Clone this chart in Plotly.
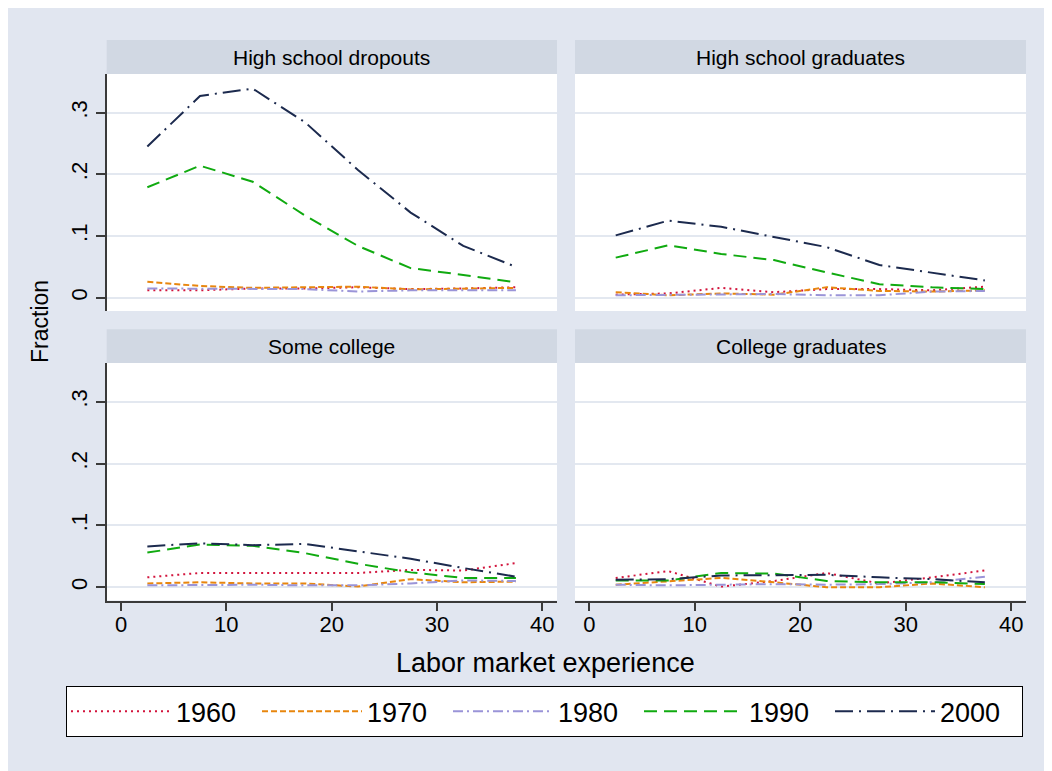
import plotly.graph_objects as go

# the page body has an 8px margin, so the figure is laid out 8px smaller
OFF = 8
W, H = 1052 - OFF, 771 - OFF

experience = [2.5, 7.5, 12.5, 17.5, 22.5, 27.5, 32.5, 37.5]
years = ["1960", "1970", "1980", "1990", "2000"]

# High school dropouts
dropouts_1960 = [0.012, 0.012, 0.015, 0.015, 0.017, 0.014, 0.015, 0.017]
dropouts_1970 = [0.026, 0.019, 0.016, 0.017, 0.018, 0.0135, 0.015, 0.016]
dropouts_1980 = [0.015, 0.015, 0.015, 0.014, 0.010, 0.012, 0.012, 0.012]
dropouts_1990 = [0.179, 0.214, 0.188, 0.133, 0.084, 0.048, 0.037, 0.025]
dropouts_2000 = [0.245, 0.327, 0.339, 0.284, 0.207, 0.138, 0.084, 0.050]

# High school graduates
hsgrad_1960 = [0.005, 0.007, 0.016, 0.009, 0.014, 0.014, 0.012, 0.018]
hsgrad_1970 = [0.009, 0.004, 0.007, 0.005, 0.017, 0.011, 0.010, 0.012]
hsgrad_1980 = [0.004, 0.005, 0.006, 0.006, 0.004, 0.004, 0.010, 0.011]
hsgrad_1990 = [0.065, 0.085, 0.071, 0.061, 0.041, 0.022, 0.017, 0.014]
hsgrad_2000 = [0.101, 0.125, 0.115, 0.098, 0.082, 0.053, 0.041, 0.028]

# Some college
somecol_1960 = [0.016, 0.023, 0.023, 0.023, 0.023, 0.028, 0.027, 0.039]
somecol_1970 = [0.006, 0.008, 0.006, 0.006, 0.001, 0.013, 0.008, 0.009]
somecol_1980 = [0.003, 0.004, 0.004, 0.003, 0.003, 0.006, 0.011, 0.010]
somecol_1990 = [0.056, 0.069, 0.067, 0.055, 0.038, 0.024, 0.015, 0.015]
somecol_2000 = [0.066, 0.071, 0.068, 0.070, 0.058, 0.046, 0.031, 0.017]

# College graduates
colgrad_1960 = [0.015, 0.026, 0.001, 0.010, 0.023, 0.006, 0.016, 0.027]
colgrad_1970 = [0.004, 0.010, 0.015, 0.008, 0.000, 0.000, 0.006, 0.000]
colgrad_1980 = [0.004, 0.003, 0.004, 0.005, 0.004, 0.005, 0.008, 0.017]
colgrad_1990 = [0.011, 0.011, 0.023, 0.022, 0.010, 0.008, 0.008, 0.005]
colgrad_2000 = [0.012, 0.013, 0.019, 0.020, 0.020, 0.016, 0.013, 0.008]

panels = [
    ("High school dropouts", [dropouts_1960, dropouts_1970, dropouts_1980, dropouts_1990, dropouts_2000]),
    ("High school graduates", [hsgrad_1960, hsgrad_1970, hsgrad_1980, hsgrad_1990, hsgrad_2000]),
    ("Some college", [somecol_1960, somecol_1970, somecol_1980, somecol_1990, somecol_2000]),
    ("College graduates", [colgrad_1960, colgrad_1970, colgrad_1980, colgrad_1990, colgrad_2000]),
]

colors = ["#D2143C", "#E8860E", "#9A94D8", "#10AA10", "#1C2A4E"]
dashes = ["2px,4px", "6px,3px", "10px,4px,2px,4px", "13px,7px", "18px,6px,2px,6px"]

BG = "#E1E6F0"
STRIP = "#D1D8E3"
GRID = "#E3E8F0"
AXIS = "#3A3A3A"
FONT = "Liberation Sans, Arial, sans-serif"


def fx(x):
    return (x - OFF) / W


def fy(y):
    return 1 - (y - OFF) / H


# panel boxes in page pixels
col_px = [(106.7, 557.0), (575.0, 1026.0)]
row_px = [(74.0, 311.0), (363.0, 600.5)]
strip_px = [(40.0, 74.0), (329.3, 363.0)]

fig = go.Figure()

for i, (title, series) in enumerate(panels):
    r, c = divmod(i, 2)
    ax = "" if i == 0 else str(i + 1)
    for j, vals in enumerate(series):
        fig.add_trace(go.Scatter(
            x=experience, y=vals, mode="lines", name=years[j],
            legendgroup=years[j], showlegend=(i == 0),
            line=dict(color=colors[j], width=2, dash=dashes[j]),
            xaxis="x" + ax, yaxis="y" + ax,
        ))
    x0, x1 = col_px[c]
    y0, y1 = row_px[r]
    bottom = r == 1
    left = c == 0
    fig.update_layout(**{
        "xaxis" + ax: dict(
            domain=[fx(x0), fx(x1)], range=[-1.36, 41.4], anchor="y" + ax,
            tickvals=[0, 10, 20, 30, 40], showgrid=False, zeroline=False,
            showticklabels=bottom, ticks="outside" if bottom else "",
            ticklen=9, tickwidth=1.5, tickcolor=AXIS, ticklabelstandoff=-6,
            showline=bottom, linecolor=AXIS, linewidth=1.5,
            tickfont=dict(size=22, color="black", family=FONT),
        ),
        "yaxis" + ax: dict(
            domain=[fy(y1), fy(y0)], range=[-0.0215, 0.3626], anchor="x" + ax,
            tickvals=[0, 0.1, 0.2, 0.3], ticktext=["0", ".1", ".2", ".3"],
            showgrid=True, gridcolor=GRID, gridwidth=1.5, zeroline=False,
            showticklabels=left, ticks="outside" if left else "",
            ticklen=9, tickwidth=1.5, tickcolor=AXIS, tickangle=-90,
            showline=left, linecolor=AXIS, linewidth=1.5,
            tickfont=dict(size=22, color="black", family=FONT),
        ),
    })
    s0, s1 = strip_px[r]
    fig.add_shape(type="rect", xref="paper", yref="paper",
                  x0=fx(x0), x1=fx(x1), y0=fy(s1), y1=fy(s0),
                  fillcolor=STRIP, line_width=0, layer="below")
    fig.add_annotation(text=title, xref="paper", yref="paper",
                       x=fx((x0 + x1) / 2), y=fy((s0 + s1) / 2),
                       xanchor="center", yanchor="middle",
                       showarrow=False, font=dict(size=21, color="black", family=FONT))

fig.add_annotation(text="Fraction", xref="paper", yref="paper", x=fx(40), y=fy(322),
                   xanchor="center", yanchor="middle", textangle=-90, showarrow=False,
                   font=dict(size=23, color="black", family=FONT))
fig.add_annotation(text="Labor market experience", xref="paper", yref="paper",
                   x=fx(545), y=fy(663), xanchor="center", yanchor="middle",
                   showarrow=False, font=dict(size=27, color="black", family=FONT))

fig.update_layout(
    width=W, height=H,
    margin=dict(l=0, r=0, t=0, b=0),
    paper_bgcolor=BG, plot_bgcolor="white",
    showlegend=True,
    legend=dict(
        orientation="h", x=fx(66), y=fy(686), xanchor="left", yanchor="top",
        bgcolor="white", bordercolor="black", borderwidth=1.2,
        font=dict(size=27, color="black", family=FONT),
        entrywidth=76, itemwidth=100,
    ),
)

fig.write_html("out.html")
